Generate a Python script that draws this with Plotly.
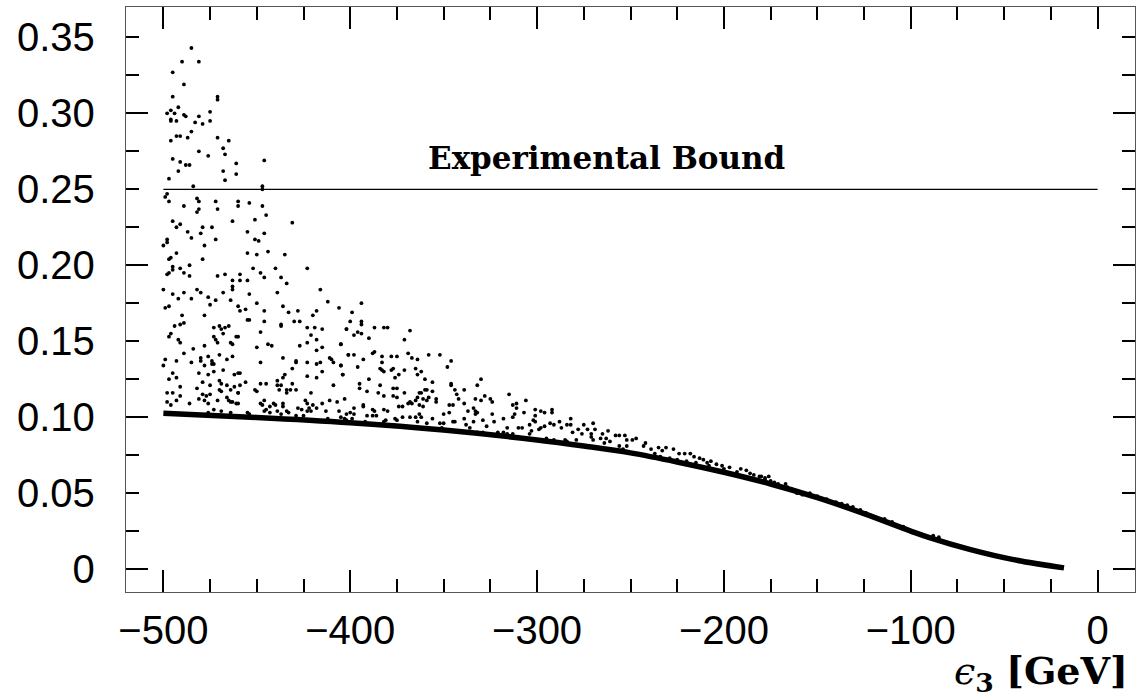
import plotly.graph_objects as go

# ---- lower envelope (thick band) ----
curve_x = [-500, -450, -400, -350, -300, -275, -250, -225, -200, -175, -150, -125, -100, -90, -68, -45, -18]
curve_y = [0.1025, 0.0998, 0.0963, 0.0915, 0.0850, 0.0810, 0.0765, 0.0705, 0.0637, 0.0560,
           0.0470, 0.0365, 0.0250, 0.0207, 0.0128, 0.0062, 0.0008]

# ---- experimental bound ----
bound_x = [-500, 0]
bound_y = [0.25, 0.25]

# ---- scattered points, read region by region ----
pts_top = [(-485,0.343),(-490,0.334),(-481,0.334),(-495,0.327),(-489,0.319),(-495,0.311),(-471,0.311),(-471,0.309),
 (-492,0.304),(-498,0.300),(-496,0.302),(-494,0.300),(-489,0.299),(-488,0.298),(-496,0.296),(-496,0.295),(-493,0.295),
 (-481,0.298),(-475,0.301),(-475,0.295),(-483,0.294),(-479,0.293),(-485,0.288),(-493,0.285),(-491,0.285),(-487,0.284),
 (-496,0.282),(-471,0.284),(-465,0.282),(-468,0.277),(-481,0.275),(-467,0.273),(-476,0.272),(-495,0.270),(-491,0.268),
 (-488,0.266),(-486,0.266),(-446,0.269),(-461,0.267),(-492,0.262),(-468,0.262),(-461,0.260),(-497,0.257),(-467,0.256),
 (-484,0.252),(-447,0.252),(-447,0.250),(-498,0.247),(-499,0.245),(-497,0.242),(-482,0.244),(-481,0.242),(-472,0.242),
 (-460,0.242),(-454,0.241),(-489,0.239),(-460,0.239),(-447,0.239),(-481,0.237),(-482,0.235),(-471,0.237),(-445,0.233),
 (-495,0.229),(-463,0.229),(-451,0.230),(-431,0.228),(-491,0.227),(-493,0.225),(-479,0.225),(-474,0.225)]

pts_left = [(-487,0.222),(-480,0.221),(-485,0.218),(-472,0.217),(-498,0.217),(-498,0.215),(-500,0.213),(-478,0.213),
 (-455,0.222),(-446,0.221),(-451,0.217),(-449,0.216),(-444,0.209),(-493,0.208),(-455,0.208),(-450,0.207),(-435,0.207),
 (-496,0.205),(-497,0.204),(-479,0.204),(-495,0.199),(-486,0.200),(-495,0.197),(-491,0.198),(-497,0.195),(-498,0.194),
 (-489,0.195),(-486,0.193),(-452,0.198),(-440,0.198),(-423,0.198),(-448,0.195),(-446,0.192),(-437,0.192),(-471,0.193),
 (-467,0.194),(-459,0.194),(-463,0.190),(-459,0.190),(-455,0.190),(-434,0.188),(-463,0.186),(-463,0.184),(-500,0.184),
 (-482,0.184),(-480,0.182),(-489,0.182),(-495,0.181),(-468,0.182),(-454,0.181),(-439,0.182),(-416,0.184),(-492,0.178),
 (-485,0.178),(-476,0.179),(-472,0.177),(-464,0.177),(-450,0.175),(-475,0.174),(-412,0.176),(-499,0.172),(-497,0.173),
 (-460,0.173),(-459,0.170),(-456,0.171),(-446,0.170),(-436,0.173),(-428,0.170),(-418,0.170),(-406,0.172),(-478,0.167),
 (-433,0.169),(-420,0.167),(-490,0.167),(-455,0.164),(-454,0.164),(-446,0.163),(-430,0.163),(-427,0.163),(-491,0.161),
 (-489,0.162),(-494,0.160),(-473,0.159),(-470,0.160),(-467,0.159),(-465,0.160),(-469,0.158),(-437,0.160),(-437,0.161),
 (-423,0.159),(-419,0.159),(-415,0.158),(-402,0.158),(-448,0.156),(-468,0.155),(-496,0.155),(-497,0.153),(-473,0.153),
 (-461,0.153),(-460,0.153),(-421,0.154),(-492,0.151),(-491,0.149),(-472,0.151),(-471,0.149),(-464,0.149),(-463,0.148),
 (-444,0.148),(-442,0.147),(-423,0.149),(-418,0.151),(-450,0.146),(-405,0.148),(-484,0.145),(-478,0.147),(-427,0.147),
 (-418,0.144),(-415,0.146),(-489,0.142),(-470,0.141),(-463,0.140),(-499,0.138),(-500,0.134),(-493,0.137),(-485,0.136),
 (-480,0.139),(-476,0.140),(-480,0.137),(-478,0.134),(-474,0.137),(-474,0.135),(-473,0.135),(-466,0.138),(-448,0.136),
 (-436,0.139),(-429,0.136),(-429,0.137),(-423,0.136),(-418,0.135),(-416,0.136),(-411,0.139),(-410,0.138),(-409,0.136),
 (-405,0.134),(-401,0.141),(-468,0.131),(-481,0.129),(-495,0.129),(-476,0.128),(-473,0.130),(-462,0.128),(-460,0.129),
 (-459,0.129),(-435,0.128),(-431,0.132),(-436,0.126),(-439,0.124),(-423,0.127),(-418,0.126),(-415,0.130),(-404,0.128),
 (-497,0.125),(-493,0.126),(-479,0.123),(-475,0.121),(-470,0.124),(-469,0.122),(-466,0.121),(-462,0.120),(-459,0.121),
 (-456,0.123),(-448,0.122),(-445,0.122),(-439,0.121),(-437,0.121),(-431,0.122),(-409,0.121),(-491,0.120),(-482,0.119),
 (-470,0.118),(-469,0.117),(-464,0.118),(-460,0.116),(-451,0.118),(-450,0.117),(-438,0.118),(-434,0.118),(-432,0.118),
 (-429,0.118),(-434,0.116),(-498,0.116),(-495,0.116),(-491,0.114),(-479,0.115),(-477,0.114),(-475,0.115),(-466,0.113),
 (-460,0.116),(-421,0.116),(-498,0.110),(-496,0.108),(-493,0.111),(-486,0.109),(-481,0.112),(-478,0.111),(-476,0.109),
 (-471,0.111),(-465,0.111),(-464,0.110),(-463,0.110),(-461,0.109),(-460,0.109),(-448,0.109),(-446,0.111),(-447,0.108),
 (-443,0.107),(-441,0.109),(-440,0.108),(-436,0.109),(-436,0.107),(-424,0.111),(-423,0.109),(-420,0.108),(-415,0.109),
 (-411,0.111),(-407,0.110),(-473,0.105),(-469,0.104),(-464,0.103),(-455,0.103),(-454,0.102),(-476,0.103),(-446,0.104),
 (-445,0.105),(-443,0.103),(-439,0.104),(-437,0.102),(-434,0.104),(-433,0.103),(-428,0.106),(-426,0.105),(-423,0.104),
 (-422,0.106),(-421,0.104),(-418,0.106),(-413,0.104),(-412,0.099),(-406,0.104),(-405,0.100),(-425,0.101),(-429,0.101),
 (-400,0.103),(-402,0.098)]

pts_mid = [(-394,0.175),(-399,0.169),(-400,0.163),(-394,0.163),(-394,0.161),(-402,0.158),(-396,0.156),(-394,0.155),
 (-398,0.154),(-387,0.159),(-382,0.159),(-380,0.159),(-368,0.157),(-390,0.152),(-405,0.148),(-371,0.151),(-388,0.142),
 (-387,0.143),(-369,0.142),(-401,0.141),(-398,0.141),(-383,0.140),(-378,0.140),(-375,0.140),(-367,0.139),(-364,0.138),
 (-358,0.141),(-352,0.141),(-346,0.137),(-393,0.138),(-383,0.136),(-405,0.134),(-396,0.133),(-348,0.133),(-384,0.132),
 (-383,0.131),(-382,0.130),(-378,0.131),(-377,0.132),(-371,0.131),(-365,0.132),(-362,0.130),(-374,0.128),(-376,0.126),
 (-404,0.128),(-364,0.128),(-390,0.125),(-360,0.125),(-395,0.122),(-356,0.123),(-346,0.122),(-346,0.121),(-395,0.119),
 (-384,0.121),(-377,0.119),(-375,0.119),(-359,0.118),(-330,0.125),(-332,0.121),(-344,0.118),(-339,0.118),(-391,0.117),
 (-385,0.116),(-371,0.116),(-363,0.116),(-362,0.116),(-360,0.118),(-356,0.117),(-382,0.114),(-377,0.114),(-375,0.113),
 (-364,0.113),(-358,0.113),(-354,0.112),(-343,0.115),(-328,0.114),(-325,0.112),(-315,0.115),(-342,0.112),(-333,0.112),
 (-330,0.111),(-324,0.110),(-306,0.111),(-403,0.112),(-365,0.111),(-361,0.112),(-359,0.111),(-354,0.110),(-339,0.109),
 (-367,0.109),(-369,0.109),(-368,0.110),(-311,0.109),(-313,0.108),(-393,0.108),(-393,0.107),(-398,0.106),(-374,0.107),
 (-372,0.107),(-363,0.108),(-361,0.107),(-347,0.108),(-345,0.108),(-334,0.106),(-311,0.106),(-301,0.105),(-388,0.105),
 (-387,0.104),(-382,0.105),(-380,0.104),(-337,0.104),(-333,0.104),(-332,0.103),(-307,0.103),(-402,0.102),(-398,0.102),
 (-391,0.101),(-388,0.101),(-386,0.101),(-372,0.100),(-368,0.100),(-363,0.102),(-365,0.100),(-362,0.100),(-356,0.099),
 (-350,0.102),(-347,0.103),(-333,0.102),(-324,0.102),(-318,0.099),(-313,0.100),(-312,0.102),(-301,0.101),(-345,0.097),
 (-344,0.097),(-339,0.099),(-334,0.097),(-329,0.098),(-323,0.097),(-302,0.098),(-301,0.097),(-375,0.098),(-376,0.099),
 (-381,0.098),(-382,0.097),(-392,0.097),(-399,0.099),(-403,0.099),(-352,0.096),(-350,0.096),(-351,0.093),(-364,0.097),
 (-359,0.096),(-338,0.095),(-336,0.093),(-327,0.094),(-316,0.093),(-310,0.093),(-308,0.093),(-304,0.095),(-303,0.091),
 (-299,0.092),(-321,0.090),(-318,0.090),(-316,0.089),(-313,0.089),(-304,0.089),(-332,0.090),(-329,0.090),(-341,0.091),
 (-345,0.091)]

pts_right = [(-292,0.105),(-292,0.103),(-296,0.103),(-298,0.104),(-288,0.097),(-282,0.099),(-284,0.095),(-282,0.095),
 (-293,0.096),(-291,0.095),(-296,0.094),(-298,0.093),(-287,0.093),(-278,0.092),(-275,0.095),(-273,0.092),(-270,0.096),
 (-269,0.092),(-262,0.091),(-281,0.090),(-276,0.089),(-271,0.089),(-271,0.087),(-265,0.089),(-266,0.086),(-258,0.088),
 (-256,0.088),(-253,0.088),(-263,0.086),(-285,0.085),(-284,0.084),(-279,0.085),(-291,0.085),(-295,0.086),(-252,0.085),
 (-249,0.085),(-247,0.086),(-270,0.085),(-264,0.083),(-261,0.084),(-256,0.081),(-254,0.079),(-252,0.081),(-242,0.083),
 (-243,0.081),(-239,0.079),(-235,0.080),(-231,0.080),(-227,0.079),(-233,0.078),(-237,0.076),(-224,0.076),(-221,0.076),
 (-218,0.076),(-216,0.074),(-213,0.073),(-211,0.072),(-209,0.070),(-207,0.071),(-204,0.069),(-201,0.068),(-208,0.068),
 (-197,0.067),(-200,0.066),(-191,0.066),(-188,0.065),(-186,0.063),(-184,0.062),(-181,0.061),(-178,0.060),(-176,0.061),
 (-234,0.074),(-229,0.073),(-225,0.072),(-220,0.071),(-215,0.070),(-193,0.064)]

pts_tail = [(-180,0.061),(-178,0.059),(-175,0.058),(-173,0.057),(-171,0.056),(-167,0.056),(-166,0.054),(-164,0.053),
 (-161,0.050),(-158,0.049),(-154,0.050),(-152,0.048),(-150,0.048),(-148,0.046),(-145,0.046),(-140,0.044),(-137,0.043),
 (-134,0.042),(-131,0.041),(-127,0.039),(-124,0.037),(-114,0.033),(-110,0.031),(-104,0.028),(-88,0.022),(-85,0.021)]

all_pts = pts_top + pts_left + pts_mid + pts_right + pts_tail
scatter_x = [p[0] for p in all_pts]
scatter_y = [p[1] for p in all_pts]

y_label_vals = [0, 0.05, 0.10, 0.15, 0.20, 0.25, 0.30, 0.35]
y_label_text = ["0", "0.05", "0.10", "0.15", "0.20", "0.25", "0.30", "0.35"]
y_major_vals = [0, 0.1, 0.2, 0.3]

X_RANGE = [-520, 20]
Y_RANGE = [-0.0151, 0.370]

fig = go.Figure()
fig.add_trace(go.Scatter(x=curve_x, y=curve_y, mode="lines",
                         line=dict(color="black", width=5.5, shape="spline"),
                         showlegend=False, hoverinfo="skip"))
fig.add_trace(go.Scatter(x=scatter_x, y=scatter_y, mode="markers",
                         marker=dict(color="black", size=3.8),
                         showlegend=False))
fig.add_trace(go.Scatter(x=bound_x, y=bound_y, mode="lines", yaxis="y2",
                         line=dict(color="black", width=1.3),
                         showlegend=False, hoverinfo="skip"))

tickfont = dict(family="Liberation Sans, Arial, sans-serif", size=40, color="black")

fig.update_layout(
    width=1140, height=698,
    margin=dict(l=126, r=5, t=7, b=106),
    paper_bgcolor="white", plot_bgcolor="white",
    xaxis=dict(range=X_RANGE, tickmode="linear", tick0=0, dtick=100, automargin=False,
               ticks="inside", ticklen=22, tickwidth=2.2, tickcolor="black",
               showline=True, linecolor="#555", linewidth=1.3, mirror="ticks",
               showgrid=False, zeroline=False, tickfont=tickfont,
               ticklabelstandoff=3,
               minor=dict(tickmode="linear", tick0=0, dtick=25, ticks="inside",
                          ticklen=13, tickwidth=1.8, tickcolor="black", showgrid=False)),
    yaxis=dict(range=Y_RANGE, tickmode="array", tickvals=y_label_vals, ticktext=y_label_text,
               automargin=False,
               ticks="inside", ticklen=13, tickwidth=1.8, tickcolor="black",
               showline=True, linecolor="#555", linewidth=1.3, mirror="ticks",
               showgrid=False, zeroline=False, tickfont=tickfont,
               ticklabelstandoff=22,
               minor=dict(tickmode="linear", tick0=0, dtick=0.025, ticks="inside",
                          ticklen=13, tickwidth=1.8, tickcolor="black", showgrid=False)),
    yaxis2=dict(range=Y_RANGE, overlaying="y", side="left", tickmode="array", automargin=False,
                tickvals=y_major_vals, ticks="inside", ticklen=22, tickwidth=2.2,
                tickcolor="black", showticklabels=False, showline=True,
                linecolor="#555", linewidth=1.3, mirror="ticks",
                showgrid=False, zeroline=False),
)

fig.add_annotation(x=-263, y=0.2707, xref="x", yref="y", text="<b>Experimental Bound</b>",
                   showarrow=False, font=dict(family="DejaVu Serif, serif", size=31, color="black"))
fig.add_annotation(x=0.819, y=-0.184, xref="paper", yref="paper", xanchor="left", yanchor="bottom",
                   text="<i>ϵ</i><sub><b>3</b></sub> <b>[GeV]</b>", showarrow=False,
                   font=dict(family="DejaVu Serif, serif", size=38, color="black"))

fig.write_html("out.html", config={"displayModeBar": False},
               post_script="document.body.style.margin='0';document.body.style.overflow='hidden';")
